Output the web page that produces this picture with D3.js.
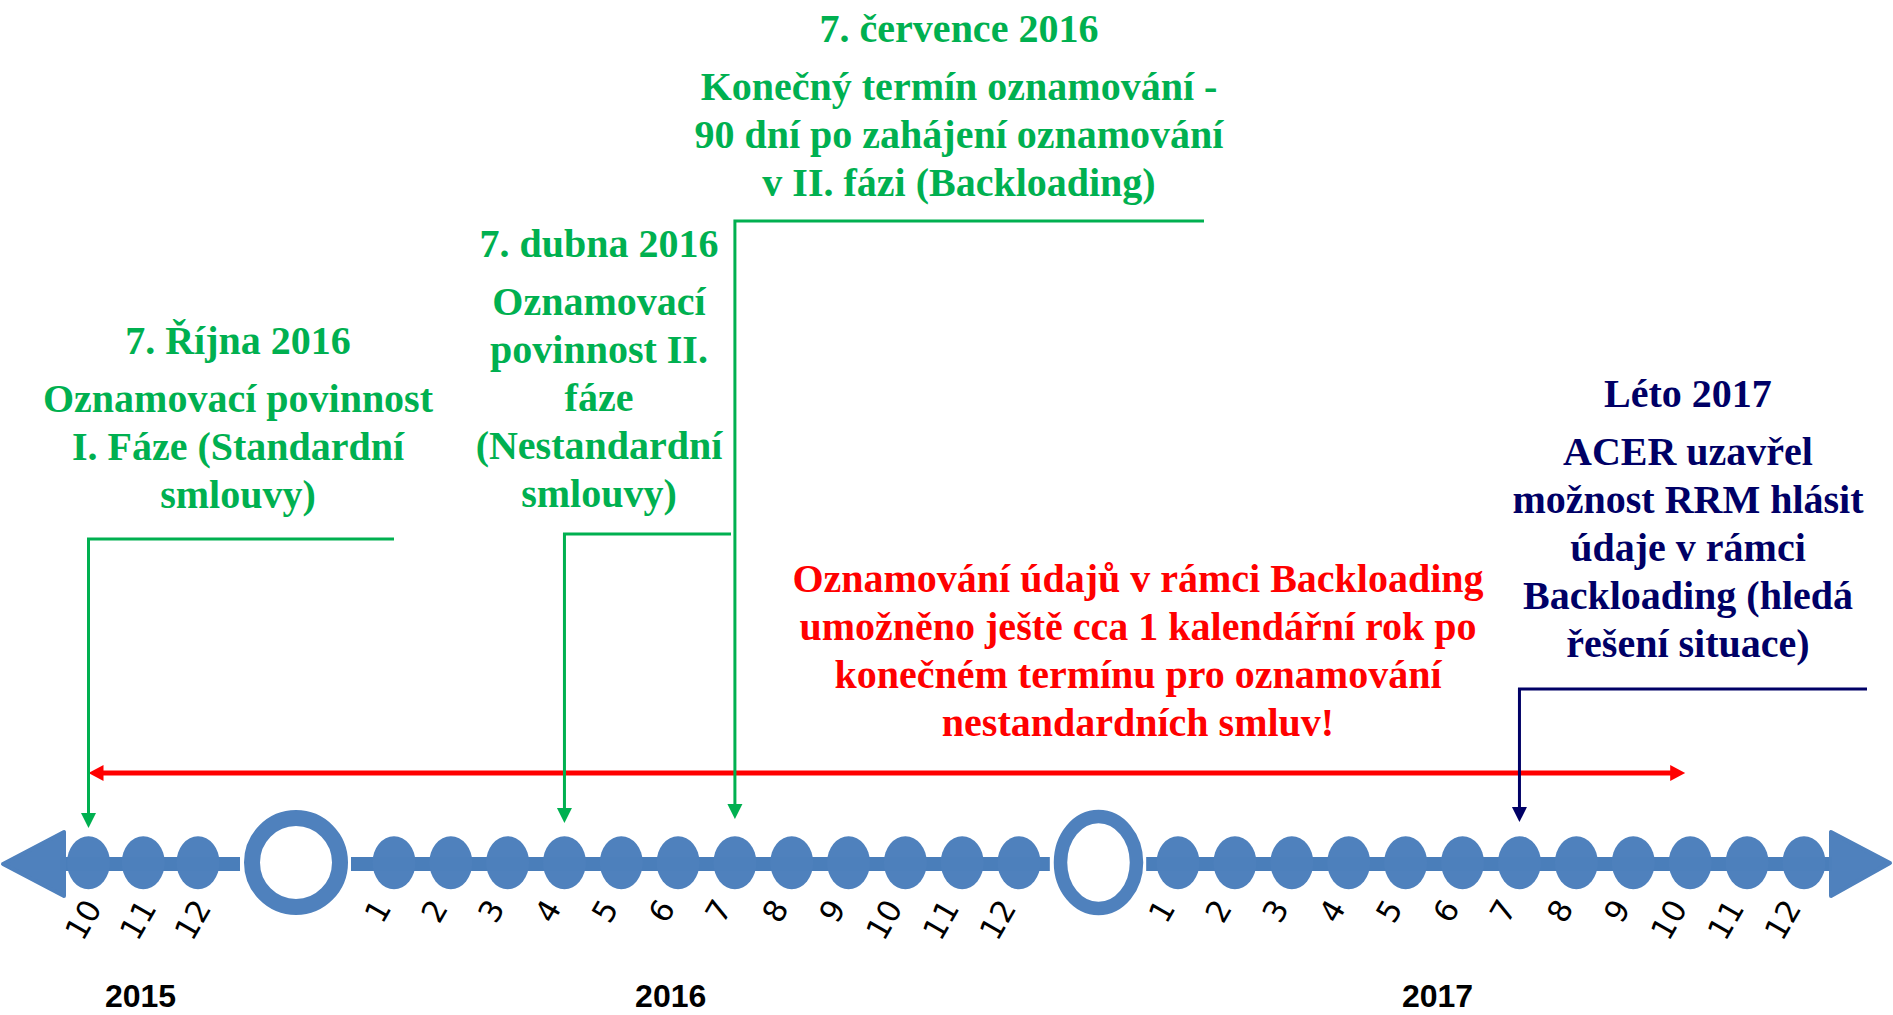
<!DOCTYPE html>
<html>
<head>
<meta charset="utf-8">
<script src="https://cdn.jsdelivr.net/npm/d3@7"></script>
<style>
	html, body { margin: 0; padding: 0; background: #fff; overflow: hidden; }
</style>
</head>
<body>
<script>
"use strict";

//months on the axis, grouped per year
const years = [2015, 2016, 2017];
const yearMonths = [
	[10, 11, 12],
	[1, 2, 3, 4, 5, 6, 7, 8, 9, 10, 11, 12],
	[1, 2, 3, 4, 5, 6, 7, 8, 9, 10, 11, 12]
];
//month (fractional) under which each year label sits
const yearLabelAt = [10.95, 5.87, 5.56];

//events pointing at the axis
const eventMonth = [[2015, 10], [2016, 4], [2016, 7], [2017, 7]];
const eventTitle = ["7. Října 2016", "7. dubna 2016", "7. července 2016", "Léto 2017"];
const eventText = [
	["Oznamovací povinnost", "I. Fáze (Standardní", "smlouvy)"],
	["Oznamovací", "povinnost II.", "fáze", "(Nestandardní", "smlouvy)"],
	["Konečný termín oznamování -", "90 dní po zahájení oznamování", "v II. fázi (Backloading)"],
	["ACER uzavřel", "možnost RRM hlásit", "údaje v rámci", "Backloading (hledá", "řešení situace)"]
];

//backloading window (red double arrow)
const backloadingSpan = [[2015, 10], [2017, 10]];
const backloadingText = [
	"Oznamování údajů v rámci Backloading",
	"umožněno ještě cca 1 kalendářní rok po",
	"konečném termínu pro oznamování",
	"nestandardních smluv!"
];

//layout
const width = 1893, height = 1015;
const blue = "#4f81bd", green = "#00b050", navy = "#000066", red = "#ff0000";
const axisY = 864, dotY = 862.7;
const serif = "'Liberation Serif', 'Times New Roman', serif";

//event text and bracket placement (pixels)
const eventLayout = [
	{cx: 238, titleY: 354, armY: 539, armEnd: 394, tipY: 828, color: green},
	{cx: 599, titleY: 257, armY: 534, armEnd: 731, tipY: 823, color: green},
	{cx: 959, titleY: 42, armY: 221, armEnd: 1204, tipY: 819, color: green},
	{cx: 1688, titleY: 407, armY: 689, armEnd: 1867, tipY: 822, color: navy}
];
//year-break rings
const ringShape = [
	{rx: 44, ry: 44.5, sw: 16},
	{rx: 38, ry: 46, sw: 13.5}
];

//month index counted from October 2015
function idx(y, m) { return (y - 2015) * 12 + m - 10; }

let x = d3.scaleLinear()
	.domain([0, 2, 3, 14, 15, 26])
	.range([88.5, 198, 394, 1019, 1178, 1804]);

let svg = d3.select("body").append("svg")
	.attr("width", width)
	.attr("height", height);

//axis line segments between arrows and rings
let ringT = years.slice(0, -1).map(function(y) { return idx(y, 12) + 0.5; });
let stops = [60];
ringT.forEach(function(t, i)
{
	stops.push(x(t) - ringShape[i].rx - ringShape[i].sw / 2 - 4);
	stops.push(x(t) + ringShape[i].rx + ringShape[i].sw / 2 + 3);
});
stops.push(1832);
let segments = d3.range(0, stops.length, 2).map(function(i) { return [stops[i], stops[i + 1]]; });

let axis = svg.append("g");
axis.selectAll("rect.seg")
	.data(segments)
	.enter().append("rect")
	.attr("class", "seg")
	.attr("x", function(s) { return s[0]; })
	.attr("y", axisY - 7)
	.attr("width", function(s) { return s[1] - s[0]; })
	.attr("height", 14)
	.attr("fill", "#4a7ebb");

//end arrows
let line = d3.line();
axis.append("path")
	.attr("d", line([[3, axisY], [64, axisY - 32], [64, axisY + 32]]) + "Z")
	.attr("fill", blue).attr("stroke", blue).attr("stroke-width", 4)
	.attr("stroke-linejoin", "round");
axis.append("path")
	.attr("d", line([[1890, axisY - 1], [1831, axisY - 32], [1831, axisY + 32]]) + "Z")
	.attr("fill", blue).attr("stroke", blue).attr("stroke-width", 4)
	.attr("stroke-linejoin", "round");

//rings
ringT.forEach(function(t, i)
{
	axis.append("ellipse")
		.attr("cx", x(t))
		.attr("cy", 862.5)
		.attr("rx", ringShape[i].rx)
		.attr("ry", ringShape[i].ry)
		.attr("fill", "none")
		.attr("stroke", blue)
		.attr("stroke-width", ringShape[i].sw);
});

//month dots and labels
let monthData = [];
years.forEach(function(y, i)
{
	yearMonths[i].forEach(function(m) { monthData.push({year: y, month: m, t: idx(y, m)}); });
});

axis.selectAll("ellipse.dot")
	.data(monthData)
	.enter().append("ellipse")
	.attr("class", "dot")
	.attr("cx", function(d) { return x(d.t); })
	.attr("cy", dotY)
	.attr("rx", 21.5)
	.attr("ry", 26.5)
	.attr("fill", blue);

//line shows faintly through the dots
axis.selectAll("rect.band")
	.data(segments)
	.enter().append("rect")
	.attr("class", "band")
	.attr("x", function(s) { return s[0]; })
	.attr("y", axisY - 7)
	.attr("width", function(s) { return s[1] - s[0]; })
	.attr("height", 14)
	.attr("fill", "#4a7ebb")
	.attr("fill-opacity", 0.35);

svg.append("g")
	.selectAll("text")
	.data(monthData)
	.enter().append("text")
	.attr("transform", function(d)
	{
		let shift = d.year === 2015 ? 14 : -2;
		return "translate(" + (x(d.t) + shift) + "," + 908 + ") rotate(-60)";
	})
	.attr("text-anchor", "end")
	.attr("font-family", "'DejaVu Sans', sans-serif")
	.attr("font-size", 31)
	.attr("fill", "#000")
	.text(function(d) { return d.month; });

//year labels
svg.append("g")
	.selectAll("text")
	.data(years)
	.enter().append("text")
	.attr("x", function(y, i) { return x(idx(y, yearLabelAt[i])); })
	.attr("y", 1007)
	.attr("text-anchor", "middle")
	.attr("font-family", "'Liberation Sans', Arial, sans-serif")
	.attr("font-weight", "bold")
	.attr("font-size", 32)
	.attr("fill", "#000")
	.text(function(y) { return y; });

//red backloading window arrow
let x0 = x(idx(backloadingSpan[0][0], backloadingSpan[0][1]));
let x1 = x(idx(backloadingSpan[1][0], backloadingSpan[1][1])) - 5;
let redY = 773;
let win = svg.append("g");
win.append("line")
	.attr("x1", x0 + 10).attr("x2", x1 - 10)
	.attr("y1", redY).attr("y2", redY)
	.attr("stroke", red).attr("stroke-width", 5);
win.append("path")
	.attr("d", line([[x0, redY], [x0 + 15, redY - 8], [x0 + 15, redY + 8]]) + "Z")
	.attr("fill", red);
win.append("path")
	.attr("d", line([[x1, redY], [x1 - 15, redY - 8], [x1 - 15, redY + 8]]) + "Z")
	.attr("fill", red);
win.append("g")
	.selectAll("text")
	.data(backloadingText)
	.enter().append("text")
	.attr("x", 1138)
	.attr("y", function(d, i) { return 592 + i * 48; })
	.attr("text-anchor", "middle")
	.attr("font-family", serif)
	.attr("font-weight", "bold")
	.attr("font-size", 40)
	.attr("fill", red)
	.text(function(d) { return d; });

//events: text, bracket and arrow
eventMonth.forEach(function(em, i)
{
	let lay = eventLayout[i];
	let ex = x(idx(em[0], em[1]));
	let g = svg.append("g");

	g.append("text")
		.attr("x", lay.cx)
		.attr("y", lay.titleY)
		.attr("text-anchor", "middle")
		.attr("font-family", serif)
		.attr("font-weight", "bold")
		.attr("font-size", 40)
		.attr("fill", lay.color)
		.text(eventTitle[i]);

	g.selectAll("text.body")
		.data(eventText[i])
		.enter().append("text")
		.attr("class", "body")
		.attr("x", lay.cx)
		.attr("y", function(d, j) { return lay.titleY + 58 + j * 48; })
		.attr("text-anchor", "middle")
		.attr("font-family", serif)
		.attr("font-weight", "bold")
		.attr("font-size", 40)
		.attr("fill", lay.color)
		.text(function(d) { return d; });

	g.append("path")
		.attr("d", line([[lay.armEnd, lay.armY], [ex, lay.armY], [ex, lay.tipY - 14]]))
		.attr("fill", "none")
		.attr("stroke", lay.color)
		.attr("stroke-width", 3);
	g.append("path")
		.attr("d", line([[ex, lay.tipY], [ex - 7.5, lay.tipY - 15], [ex + 7.5, lay.tipY - 15]]) + "Z")
		.attr("fill", lay.color);
});
</script>
</body>
</html>
